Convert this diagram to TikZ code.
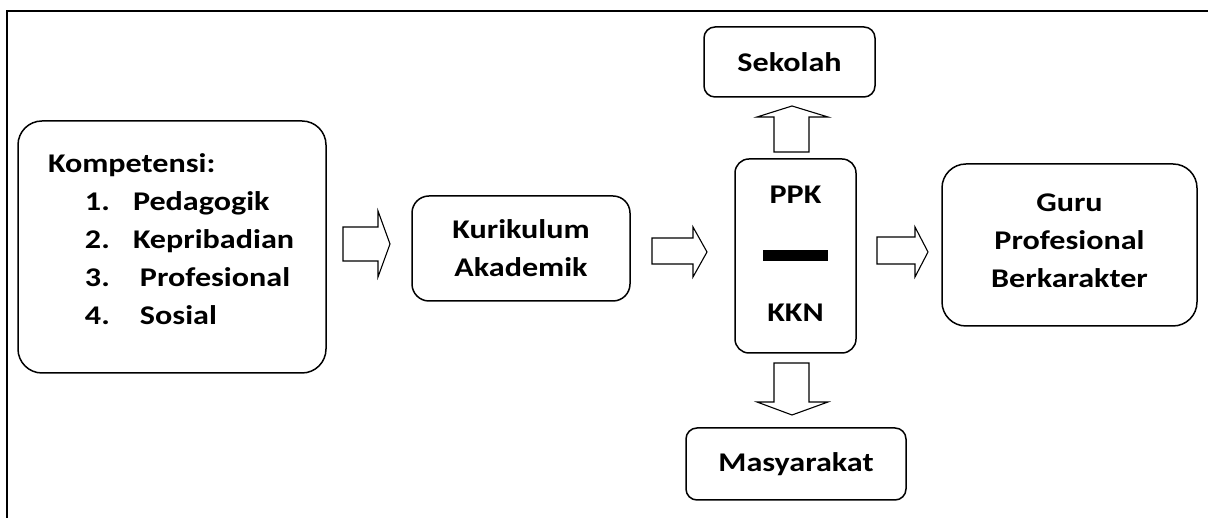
\documentclass[tikz,border=0pt]{standalone}
\usepackage{fontspec}
\setmainfont{Carlito}[FakeStretch=1.19]
\begin{document}
\begin{tikzpicture}[x=1pt,y=1pt,
	kotak/.style={draw,line width=1.5pt,rounded corners=14pt,align=center,font=\fontsize{27}{38}\selectfont\bfseries,inner sep=0pt},
	tulisan/.style={font=\fontsize{27}{38}\selectfont\bfseries,inner sep=0pt},
	panah/.style={draw,line width=1.1pt,line join=miter}]
	\useasboundingbox (0,0) rectangle (1208,518);
	% bingkai luar
	\draw[line width=2pt] (7,0)--(7,507)--(1208,507);
	% kotak-kotak
	\node[kotak,rounded corners=24pt,minimum width=308,minimum height=252] (komp) at (172,271) {};
	\node[tulisan,text width=248pt,align=left] (kompisi) at (172,279) {Kompetensi:\\
		\hspace*{37pt}\makebox[48pt][l]{1.}Pedagogik\\
		\hspace*{37pt}\makebox[48pt][l]{2.}Kepribadian\\
		\hspace*{37pt}\makebox[55pt][l]{3.}Profesional\\
		\hspace*{37pt}\makebox[55pt][l]{4.}Sosial};
	\node[kotak,rounded corners=17pt,minimum width=218,minimum height=105] (kur) at (521,269.5) {Kurikulum\\Akademik};
	\node[kotak,minimum width=121,minimum height=194] (ppk) at (795.5,262) {};
	\node[tulisan] (ppkatas) at (795.5,323) {PPK};
	\node[fill=black,minimum width=65,minimum height=11,inner sep=0pt] (garis) at (795.5,262.5) {};
	\node[tulisan] (kkn) at (795.5,205) {KKN};
	\node[kotak,rounded corners=11pt,minimum width=171,minimum height=70] (sek) at (789.5,456) {Sekolah};
	\node[kotak,rounded corners=11pt,minimum width=220,minimum height=72] (mas) at (796,54) {Masyarakat};
	\node[kotak,rounded corners=24pt,minimum width=255,minimum height=162] (guru) at (1069.5,273) {};
	\node[tulisan,align=center] (guruisi) at (1069.5,277) {Guru\\Profesional\\Berkarakter};
	% panah blok
	\draw[panah] (343,291)--(378,291)--(378,307)--(390,274)--(378,241)--(378,257)--(343,257)--cycle;
	\draw[panah] (652,280)--(693,280)--(693,291)--(707,266)--(693,241)--(693,254)--(652,254)--cycle;
	\draw[panah] (877,281)--(915,281)--(915,291)--(928,266)--(915,241)--(915,254)--(877,254)--cycle;
	\draw[panah] (774,366)--(774,401)--(757,401)--(792,412)--(828,401)--(809,401)--(809,366)--cycle;
	\draw[panah] (774,155)--(774,116)--(757,116)--(792,103)--(828,116)--(809,116)--(809,155)--cycle;
\end{tikzpicture}
\end{document}
